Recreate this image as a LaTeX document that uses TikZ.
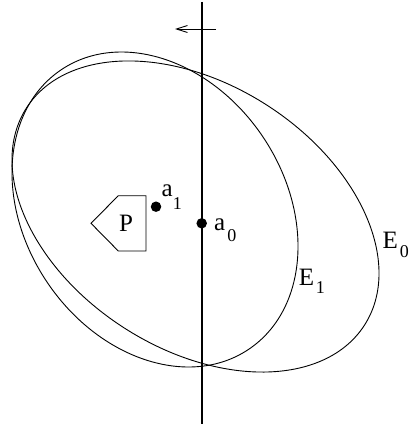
\documentclass[tikz,border=0pt]{standalone}
\usepackage{fontspec}
\setmainfont{Liberation Serif}
\usetikzlibrary{arrows.meta}
\begin{document}
\begin{tikzpicture}[x=1pt,y=1pt,
  thinline/.style={line width=0.9pt},
  cutline/.style={line width=1.6pt},
  dotmark/.style={circle,fill=black,inner sep=0pt,minimum size=10.5pt},
  lab/.style={anchor=base west,inner sep=0pt,font=\fontsize{25}{30}\selectfont},
  sub/.style={}]
\useasboundingbox (0,0) rectangle (412,-428);
% ellipses
\draw[thinline,rotate around={-32.77:(195.5,-216.5)}] (195.5,-216.5) ellipse [x radius=200.9pt,y radius=132.3pt];
\draw[thinline,rotate around={-56.2:(155,-209.5)}] (155,-209.5) ellipse [x radius=168.3pt,y radius=130.1pt];
% cutting line
\coordinate (ltop) at (202,-2);
\coordinate (lbot) at (202,-424);
\draw[cutline] (ltop) -- (lbot);
% arrow
\coordinate (arrs) at (216,-29);
\coordinate (arre) at (175,-29);
\draw[thinline,-{Straight Barb[length=11pt,width=7pt]}] (arrs) -- (arre);
% polytope P
\draw[thinline] (118.3,-195.7) -- (146,-195.7) -- (146,-251) -- (118.3,-251) -- (91,-223.3) -- cycle;
\node[inner sep=0pt,font=\fontsize{25}{30}\selectfont] (P) at (126,-223.3) {P};
% centres
\node[dotmark] (a0) at (201.7,-223.3) {};
\node[dotmark] (a1) at (156,-206.7) {};
% labels
\node[lab] (a1lab) at (161.5,-196.7) {a\raisebox{-12.6pt}{\fontsize{18}{18}\selectfont 1}};
\node[lab] (a0lab) at (214,-230) {a\kern2pt\raisebox{-11.7pt}{\fontsize{18}{18}\selectfont 0}};
\node[lab] (E0lab) at (382.4,-248.3) {E\kern2pt\raisebox{-9pt}{\fontsize{18}{18}\selectfont 0}};
\node[lab] (E1lab) at (298.7,-285) {E\kern1.7pt\raisebox{-8.3pt}{\fontsize{18}{18}\selectfont 1}};
\end{tikzpicture}
\end{document}
